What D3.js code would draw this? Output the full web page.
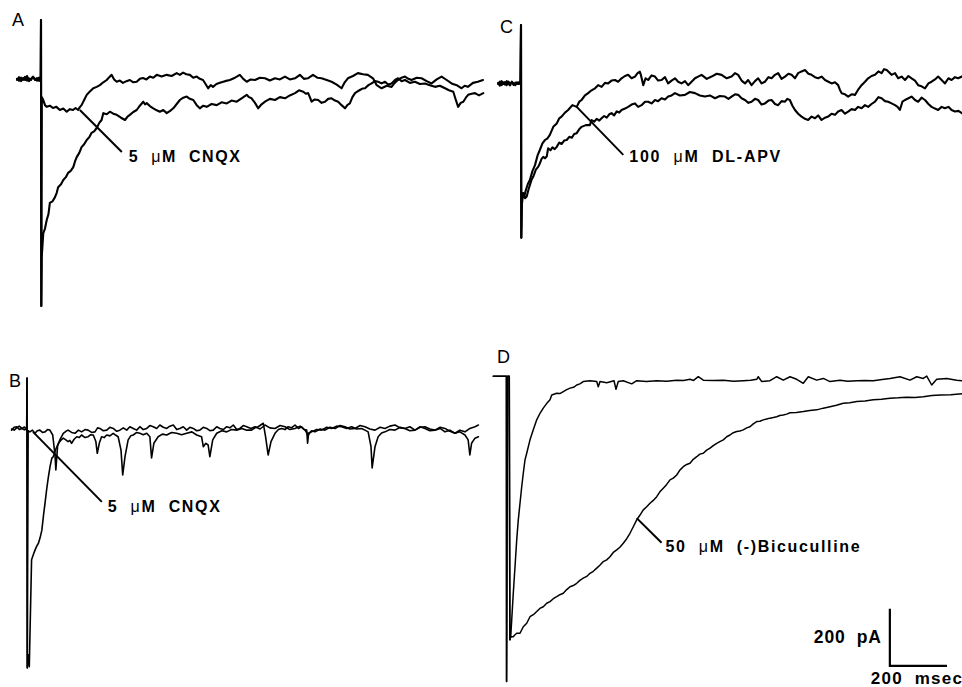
<!DOCTYPE html>
<html>
<head>
<meta charset="utf-8">
<script src="https://cdn.jsdelivr.net/npm/d3@7"></script>
<style>
  html, body { margin: 0; padding: 0; background: #fff; }
  svg { display: block; }
  .trace { fill: none; stroke: #000; stroke-linejoin: round; stroke-linecap: round; }
  .lab { font-family: 'Liberation Sans', Arial, Helvetica, sans-serif; font-weight: bold; white-space: pre; }
  .letter { font-family: 'Liberation Sans', Arial, Helvetica, sans-serif; font-size: 18px; }
</style>
</head>
<body>
<svg id="fig" width="962" height="687"></svg>
<script>
'use strict';

/* Data: [time from stimulus (ms), current (pA)] */

// A - control vs 5 uM CNQX
const aControl = [[-84,0],[-77,10],[-70,-4],[-63,7],[-56,0],[-49,14],[-42,-4],[-35,4],[-28,10],[-21,0],[-14,7],[-7,-3],[-1,0],[0,210],[1,-791],[2.5,-620],[8,-536],[14,-520],[20,-490],[26,-470],[31,-430],[40,-425],[49,-410],[55,-395],[60,-375],[70,-365],[78,-350],[87,-340],[95,-325],[104,-318],[113,-305],[119,-285],[125,-270],[134,-255],[142,-235],[151,-225],[160,-210],[169,-200],[177,-185],[186,-180],[195,-168],[204,-150],[212,-140],[218,-116],[230,-120],[241,-111],[253,-118],[265,-122],[280,-132],[294,-140],[303,-128],[311,-122],[323,-112],[335,-105],[346,-90],[358,-76],[364,-85],[370,-81],[382,-92],[393,-99],[405,-106],[416,-111],[428,-105],[440,-116],[452,-108],[463,-99],[475,-84],[486,-70],[498,-62],[510,-58],[521,-66],[533,-70],[545,-88],[556,-99],[568,-90],[580,-94],[597,-84],[615,-88],[632,-78],[650,-82],[667,-72],[685,-76],[702,-64],[720,-52],[728,-60],[737,-64],[749,-80],[760,-99],[772,-85],[784,-76],[801,-66],[819,-70],[836,-60],[854,-64],[871,-54],[889,-46],[903,-36],[918,-41],[927,-48],[935,-46],[941,-60],[947,-76],[958,-68],[970,-70],[982,-80],[994,-76],[1005,-66],[1017,-64],[1029,-72],[1040,-76],[1052,-88],[1064,-99],[1072,-88],[1081,-82],[1090,-60],[1099,-46],[1108,-40],[1116,-35],[1125,-30],[1134,-29],[1146,-18],[1157,-12],[1169,-4],[1180,-6],[1192,-12],[1204,-6],[1215,-16],[1227,-12],[1239,0],[1250,6],[1262,-4],[1274,0],[1291,-10],[1309,-6],[1326,-14],[1344,-12],[1361,-18],[1379,-24],[1396,-20],[1414,-29],[1428,-36],[1443,-41],[1452,-70],[1460,-94],[1469,-80],[1478,-76],[1487,-62],[1495,-52],[1507,-48],[1519,-46],[1533,-54],[1548,-46]];
const aCnqx = [[-84,4],[-77,-3],[-70,8],[-63,0],[-56,11],[-49,-2],[-42,6],[-35,0],[-28,12],[-21,3],[-14,-2],[-7,8],[-1,0],[0,210],[1,-791],[3,-60],[8,-70],[14,-88],[20,-94],[31,-90],[42,-98],[54,-94],[66,-105],[78,-100],[90,-111],[101,-102],[112,-105],[121,-98],[130,-105],[136,-95],[142,-88],[151,-70],[160,-52],[171,-40],[183,-29],[195,-24],[206,-18],[218,-8],[230,0],[239,10],[247,18],[256,2],[265,-6],[276,-2],[287,-10],[299,-4],[311,0],[323,-8],[335,-6],[346,4],[357,7],[369,2],[381,12],[393,8],[405,18],[422,12],[440,18],[457,14],[475,24],[486,18],[497,26],[509,20],[521,18],[533,8],[545,12],[556,4],[567,0],[576,-14],[585,-29],[594,-18],[602,-24],[614,-14],[626,-10],[644,-4],[661,0],[679,8],[696,18],[708,4],[720,-6],[734,2],[749,0],[766,8],[784,6],[801,-2],[819,6],[836,2],[854,12],[871,2],[889,6],[906,18],[920,4],[934,6],[943,12],[952,18],[967,8],[982,6],[1000,0],[1017,-6],[1035,-16],[1052,-29],[1063,-8],[1074,6],[1092,14],[1109,24],[1127,20],[1144,18],[1153,12],[1162,6],[1175,-18],[1192,-29],[1210,-20],[1227,-24],[1238,-10],[1249,0],[1262,8],[1274,12],[1286,4],[1297,0],[1315,8],[1332,6],[1350,-4],[1367,-12],[1385,2],[1402,12],[1420,0],[1437,-12],[1455,-18],[1472,-29],[1483,-20],[1494,-24],[1512,-10],[1529,-6],[1547,0]];

// B - control (with spontaneous events) vs 5 uM CNQX
const bControl = [[-54,0],[-45,-4],[-36,4],[-27,10],[-18,2],[-9,-3],[-1,0],[0,178],[1,-836],[4,-790],[8,-832],[13,-598],[16,-458],[22,-440],[28,-424],[34,-410],[40,-400],[46,-380],[52,-354],[58,-300],[63,-260],[69,-210],[75,-167],[81,-130],[87,-102],[92,-97],[101,-70],[110,-50],[118,-40],[127,-32],[136,-38],[144,-44],[150,-40],[156,-50],[165,-36],[174,-27],[183,-30],[191,-21],[203,-30],[214,-27],[223,-20],[232,-21],[241,-44],[246,-85],[253,-50],[261,-27],[270,-30],[279,-21],[290,-24],[302,-15],[311,-22],[319,-27],[329,-74],[335,-161],[343,-97],[354,-38],[363,-24],[372,-21],[384,-12],[395,-15],[407,-20],[419,-15],[430,-27],[436,-101],[444,-50],[459,-27],[474,-18],[489,-21],[506,-12],[524,-15],[541,-20],[559,-15],[577,-10],[594,-21],[611,-27],[617,-62],[626,-50],[634,-56],[640,-97],[650,-38],[664,-15],[682,-6],[699,-10],[716,-2],[734,-4],[752,2],[769,-4],[786,-4],[798,4],[809,8],[818,14],[827,20],[835,-27],[844,-91],[854,-44],[868,-15],[880,-2],[891,2],[903,-2],[914,8],[926,4],[938,14],[950,2],[961,8],[970,-2],[979,-4],[982,-50],[986,-14],[996,-10],[1014,-2],[1031,-4],[1049,6],[1066,2],[1084,10],[1101,8],[1119,2],[1136,8],[1154,0],[1171,2],[1183,-4],[1194,-10],[1204,-62],[1208,-136],[1218,-62],[1229,-27],[1241,-14],[1253,-10],[1270,-2],[1288,-4],[1306,6],[1323,2],[1340,-6],[1358,-4],[1376,8],[1393,2],[1410,-6],[1428,-4],[1446,2],[1463,-10],[1480,-4],[1498,-15],[1515,-10],[1533,-21],[1544,-38],[1550,-91],[1556,-50],[1568,-32],[1580,-27]];
const bCnqx = [[-54,-4],[-45,6],[-36,8],[-27,-2],[-18,2],[-9,7],[-1,-4],[0,178],[1,-836],[4,-6],[10,-10],[19,-4],[28,-15],[36,-6],[45,-4],[54,-12],[63,-10],[72,-2],[80,-4],[90,-21],[98,-91],[101,-143],[107,-60],[115,-38],[127,-15],[136,-8],[144,-4],[156,-12],[168,-15],[180,-4],[191,-10],[203,-2],[214,-4],[226,-12],[238,-10],[247,4],[255,2],[267,-6],[279,-4],[290,6],[302,2],[314,-8],[325,-4],[337,4],[349,-4],[360,8],[372,2],[384,-4],[395,8],[407,-2],[419,2],[430,12],[442,8],[454,2],[465,14],[477,6],[489,2],[500,10],[512,14],[524,-2],[535,2],[547,8],[559,-4],[570,6],[582,2],[594,-6],[605,-4],[617,6],[629,2],[640,-6],[652,-4],[664,8],[675,2],[687,-2],[699,8],[710,4],[722,14],[734,-2],[745,2],[757,12],[769,8],[784,2],[798,8],[816,0],[833,14],[850,4],[868,2],[886,12],[903,8],[920,-2],[938,2],[956,10],[973,-4],[984,-21],[996,-6],[1008,-10],[1026,0],[1043,-4],[1060,6],[1078,2],[1096,12],[1113,8],[1130,0],[1148,2],[1166,12],[1183,8],[1200,0],[1218,-4],[1236,6],[1253,2],[1270,10],[1288,14],[1306,4],[1323,2],[1340,8],[1358,-4],[1376,6],[1393,8],[1410,0],[1428,-4],[1446,6],[1463,2],[1480,-8],[1498,-15],[1515,-4],[1533,-10],[1550,2],[1568,8],[1580,14]];

// C - control vs 100 uM DL-APV
const cControl = [[-80,4],[-74,-6],[-68,10],[-62,0],[-56,7],[-50,-4],[-44,8],[-38,2],[-32,6],[-26,-3],[-20,5],[-14,0],[-8,6],[-2,1],[0,206],[1,-538],[3,-420],[8,-382],[14,-400],[20,-394],[26,-370],[31,-354],[37,-335],[43,-324],[52,-300],[60,-290],[66,-278],[72,-262],[78,-255],[84,-260],[90,-254],[95,-225],[103,-232],[110,-222],[118,-228],[125,-220],[134,-205],[142,-210],[151,-198],[160,-196],[169,-185],[178,-188],[186,-175],[195,-172],[204,-158],[212,-150],[227,-144],[241,-144],[247,-126],[256,-132],[265,-122],[274,-128],[282,-120],[291,-112],[300,-118],[309,-106],[317,-102],[326,-110],[335,-96],[344,-100],[352,-91],[364,-86],[375,-80],[387,-72],[399,-68],[410,-80],[422,-74],[434,-62],[445,-62],[457,-68],[469,-56],[480,-60],[492,-50],[504,-54],[515,-44],[527,-40],[539,-32],[556,-40],[574,-38],[591,-28],[609,-32],[626,-40],[644,-44],[661,-40],[679,-50],[696,-42],[714,-44],[726,-52],[737,-44],[749,-36],[760,-38],[772,-50],[784,-56],[796,-66],[807,-62],[819,-52],[830,-56],[842,-72],[854,-68],[866,-58],[877,-56],[889,-70],[900,-74],[912,-60],[924,-62],[932,-52],[941,-56],[950,-76],[959,-91],[970,-104],[982,-114],[994,-122],[1005,-126],[1017,-114],[1029,-120],[1040,-110],[1052,-126],[1064,-118],[1075,-114],[1087,-104],[1099,-108],[1110,-96],[1122,-91],[1134,-104],[1145,-97],[1157,-88],[1169,-91],[1180,-80],[1192,-85],[1204,-74],[1215,-80],[1227,-70],[1239,-62],[1251,-46],[1262,-50],[1274,-60],[1285,-62],[1297,-68],[1309,-74],[1318,-80],[1326,-91],[1335,-62],[1344,-56],[1356,-50],[1367,-44],[1379,-56],[1390,-62],[1402,-48],[1414,-56],[1426,-70],[1437,-80],[1449,-86],[1460,-91],[1472,-80],[1484,-85],[1496,-80],[1507,-91],[1519,-96],[1531,-94],[1543,-102]];
const cApv = [[-80,0],[-74,8],[-68,-4],[-62,6],[-56,-2],[-50,10],[-44,0],[-38,-5],[-32,8],[-26,2],[-20,-4],[-14,6],[-8,0],[-2,3],[0,206],[1,-538],[3,-390],[7,-382],[12,-392],[17,-371],[24,-350],[31,-336],[40,-305],[49,-284],[58,-250],[66,-231],[75,-208],[84,-196],[93,-190],[101,-178],[113,-150],[125,-138],[134,-120],[142,-114],[154,-100],[165,-91],[180,-74],[195,-80],[204,-62],[212,-56],[224,-40],[235,-32],[247,-22],[259,-15],[270,-4],[282,-10],[294,4],[305,2],[317,12],[329,14],[340,8],[352,20],[364,28],[375,32],[387,20],[399,26],[408,38],[416,43],[420,30],[428,-4],[436,20],[445,14],[457,30],[469,26],[480,12],[492,14],[504,24],[515,2],[527,12],[539,20],[550,8],[562,2],[574,10],[585,-4],[597,8],[609,20],[620,26],[632,32],[650,18],[667,26],[685,36],[702,32],[720,20],[737,26],[749,38],[760,32],[772,12],[784,2],[795,14],[807,-4],[819,10],[830,20],[842,2],[854,8],[866,24],[877,20],[889,32],[900,38],[912,18],[924,26],[936,36],[947,32],[959,20],[970,38],[982,44],[994,49],[1006,36],[1017,32],[1029,24],[1040,20],[1052,26],[1064,14],[1076,8],[1087,2],[1099,6],[1110,-4],[1116,-20],[1122,-32],[1134,-36],[1145,-44],[1157,-36],[1169,-38],[1180,-20],[1192,-4],[1204,8],[1215,20],[1227,28],[1239,32],[1251,44],[1262,38],[1271,52],[1280,49],[1289,40],[1297,32],[1309,38],[1320,20],[1332,26],[1344,14],[1356,28],[1367,20],[1379,12],[1390,-4],[1402,-8],[1414,-15],[1426,2],[1437,8],[1449,16],[1460,26],[1472,14],[1484,2],[1496,20],[1507,14],[1519,24],[1530,20],[1543,26]];

// D - control vs 50 uM (-)bicuculline
const dControl = [[-41,17],[5,17],[5.5,-1052],[9,17],[15,17],[17,-906],[20,-895],[23.5,-836],[29,-743],[35,-650],[41,-556],[46.5,-486],[52.5,-428],[58.5,-370],[64,-323],[70,-276],[76,-253],[87.5,-206],[99,-171],[111,-136],[122.5,-113],[134,-95],[145,-80],[157.5,-66],[163.5,-49],[181,-43],[192,-44],[204,-37],[216,-30],[227.5,-25],[240,-22],[251,-14],[262,-10],[274,-2],[297.5,1],[321,-2],[326.5,-20],[332.5,-2],[356,-6],[381.5,1],[388.5,-29],[396.5,-2],[414,1],[443.5,-10],[461,1],[495,-2],[531,1],[566,-1],[601,3],[625,2],[647.5,6],[660,2],[676.5,15],[694,3],[730,2],[764,3],[800,-1],[834,1],[860,3],[881,6],[886.5,15],[898.5,-2],[927.5,1],[951,15],[974,3],[997.5,15],[1021,6],[1044,-8],[1061.5,15],[1091,3],[1114,9],[1137.5,-2],[1172.5,3],[1200,-1],[1231,1],[1260,2],[1289,1],[1320,5],[1347.5,9],[1382.5,15],[1417.5,3],[1441,15],[1464,9],[1476,17],[1493.5,-14],[1511,6],[1546,9],[1581,3],[1599.5,1]];
const dBicuc = [[-41,17],[5,17],[5.5,-1052],[9,17],[15,17],[17,-906],[20,-895],[29,-895],[35,-888],[41,-883],[52.5,-883],[64,-860],[76,-848],[87.5,-825],[99,-818],[111,-807],[122,-796],[134,-790],[146,-778],[157.5,-772],[169,-762],[181,-755],[192,-748],[204,-743],[216,-730],[227.5,-720],[239,-716],[251,-708],[262,-698],[274,-690],[286,-684],[297.5,-673],[309,-666],[321,-655],[332,-645],[344,-632],[356,-626],[367.5,-615],[379,-600],[391,-591],[402,-582],[414,-568],[426,-552],[437.5,-533],[449,-510],[461,-486],[472,-470],[484,-451],[496,-440],[507.5,-428],[519,-418],[531,-405],[542,-388],[554,-375],[566,-362],[577.5,-346],[589,-340],[601,-329],[612,-312],[624,-300],[636,-292],[647.5,-288],[659,-274],[671,-265],[682,-256],[694,-253],[706,-242],[717.5,-235],[729,-226],[741,-218],[752,-212],[764,-206],[776,-195],[787.5,-189],[799,-181],[811,-177],[822,-175],[834,-171],[846,-164],[857.5,-160],[869,-150],[881,-142],[892,-141],[904,-136],[916,-133],[927.5,-130],[939,-128],[951,-125],[962,-121],[974,-119],[986,-116],[997.5,-111],[1020,-110],[1044,-107],[1067,-103],[1091,-101],[1114,-95],[1137.5,-90],[1160,-85],[1184,-78],[1207,-76],[1231,-72],[1260,-70],[1289,-66],[1318,-64],[1347.5,-60],[1376,-59],[1406,-57],[1435,-58],[1464,-55],[1494,-51],[1525,-49],[1560,-48],[1599.5,-45]];

// Labels and their pointer lines, [ms, pA] in the panel's own units
const labelTexts = ['5  μM  CNQX', '5  μM  CNQX', '100  μM  DL-APV', '50  μM  (-)Bicuculline'];
const labelFrom = [[136,-105], [21,-10], [195,-80], [461,-480]];
const labelTo = [[283,-252], [262,-255], [358,-248], [548,-566]];

// Scale bar
const scaleBarPa = 200;
const scaleBarMs = 200;
const scaleBarCorner = [1347, -997]; // in panel D units

/* Layout */
const svg = d3.select('#fig');
const unitsPer200px = 700; // 200 px on screen = 700 ms (or pA)

const panels = [
    { letter: 'A', lx: 12, ly: 26, x0: 41, y0: 80, traces: [aControl, aCnqx], sw: 2.1,
      label: 0, tdx: 7, tdy: 10, tlen: 111 },
    { letter: 'B', lx: 9, ly: 387, x0: 27, y0: 429, traces: [bControl, bCnqx], sw: 1.6,
      label: 1, tdx: 6, tdy: 10, tlen: 112 },
    { letter: 'C', lx: 500, ly: 33, x0: 521, y0: 84, traces: [cControl, cApv], sw: 2.1,
      label: 2, tdx: 6, tdy: 7, tlen: 151 },
    { letter: 'D', lx: 497, ly: 363, x0: 505, y0: 381, traces: [dControl, dBicuc], sw: 1.5,
      label: 3, tdx: 4, tdy: 9, tlen: 194 }
];

panels.forEach(function(p) {
    const x = d3.scaleLinear().domain([0, unitsPer200px]).range([p.x0, p.x0 + 200]);
    const y = d3.scaleLinear().domain([0, unitsPer200px]).range([p.y0, p.y0 - 200]);
    p.x = x; p.y = y;

    const line = d3.line()
        .x(function(d) { return x(d[0]); })
        .y(function(d) { return y(d[1]); });

    const g = svg.append('g');

    g.selectAll('path.trace')
        .data(p.traces)
        .enter().append('path')
        .attr('class', 'trace')
        .attr('stroke-width', p.sw)
        .attr('d', line);

    g.append('text')
        .attr('class', 'letter')
        .attr('x', p.lx)
        .attr('y', p.ly)
        .text(p.letter);

    // pointer + label
    const from = labelFrom[p.label], to = labelTo[p.label];
    g.append('line')
        .attr('x1', x(from[0])).attr('y1', y(from[1]))
        .attr('x2', x(to[0])).attr('y2', y(to[1]))
        .attr('stroke', '#000')
        .attr('stroke-width', 2);

    const parts = labelTexts[p.label].split('μ');
    const t = g.append('text')
        .attr('class', 'lab')
        .attr('font-size', 16)
        .attr('x', x(to[0]) + p.tdx)
        .attr('y', y(to[1]) + p.tdy)
        .attr('textLength', p.tlen)
        .attr('lengthAdjust', 'spacing');
    t.append('tspan').text(parts[0]);
    t.append('tspan').attr('font-weight', 'normal').text('μ');
    t.append('tspan').text(parts[1]);
});

/* Scale bar in panel D */
const pd = panels[3];
const cx = pd.x(scaleBarCorner[0]), cy = pd.y(scaleBarCorner[1]);
svg.append('path')
    .attr('d', d3.line()([
        [cx, pd.y(scaleBarCorner[1] + scaleBarPa)],
        [cx, cy],
        [pd.x(scaleBarCorner[0] + scaleBarMs), cy]
    ]))
    .attr('fill', 'none')
    .attr('stroke', '#000')
    .attr('stroke-width', 2.2);

svg.append('text')
    .attr('class', 'lab')
    .attr('font-size', 17.5)
    .attr('text-anchor', 'end')
    .attr('x', cx - 9)
    .attr('y', cy - 23)
    .attr('textLength', 67)
    .attr('lengthAdjust', 'spacing')
    .text(scaleBarPa + '  pA');

svg.append('text')
    .attr('class', 'lab')
    .attr('font-size', 17)
    .attr('x', cx - 19)
    .attr('y', cy + 18)
    .attr('textLength', 91)
    .attr('lengthAdjust', 'spacing')
    .text(scaleBarMs + '  msec');
</script>
</body>
</html>
